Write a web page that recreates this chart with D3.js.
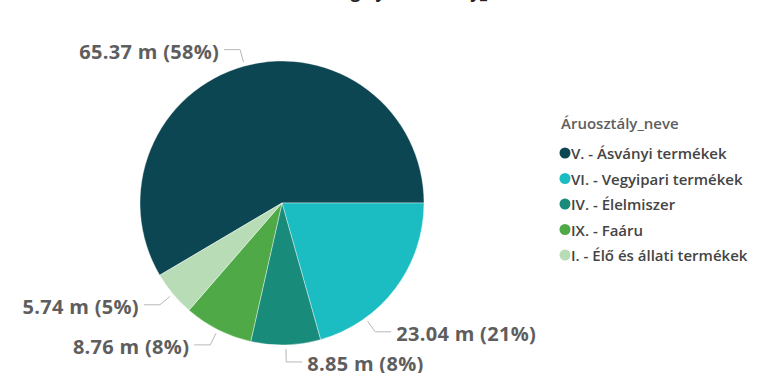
<!DOCTYPE html>
<html>
<head>
<meta charset="utf-8">
<script src="https://cdn.jsdelivr.net/npm/d3@7"></script>
<style>
  body { margin: 0; background: #fff; }
  svg { display: block; font-family: "Open Sans", sans-serif; }
</style>
</head>
<body>
<script>
// data (values in millions)
const categories = [
  "V. - Ásványi termékek",
  "VI. - Vegyipari termékek",
  "IV. - Élelmiszer",
  "IX. - Faáru",
  "I. - Élő és állati termékek"
];
const values = [65.37, 23.04, 8.85, 8.76, 5.74];
const percentLabels = ["58%", "21%", "8%", "8%", "5%"];
const colors = ["#0b4652", "#1bbdc3", "#198b7b", "#4fa947", "#b8dcb5"];
const legendTitle = "Áruosztály_neve";
const chartTitle = "Összeg by Áruosztály_neve";

const W = 773, H = 373;
const cx = 282, cy = 203, radius = 142;

const svg = d3.select("body").append("svg")
  .attr("width", W)
  .attr("height", H);

// title is cut by the top edge, only the descenders show
svg.append("text")
  .attr("x", 415)
  .attr("y", -2)
  .attr("text-anchor", "middle")
  .attr("font-size", 17)
  .attr("font-weight", 700)
  .attr("fill", "#252423")
  .text(chartTitle);

const data = categories.map((c, i) => ({ name: c, value: values[i], pct: percentLabels[i], color: colors[i] }));

// the first slice ends at 3 o'clock
const total = d3.sum(values);
const start = Math.PI / 2 - (values[0] / total) * 2 * Math.PI;

const pie = d3.pie()
  .value(d => d.value)
  .sort(null)
  .startAngle(start)
  .endAngle(start + 2 * Math.PI);

const arcs = pie(data);

const arc = d3.arc().innerRadius(0).outerRadius(radius);

const g = svg.append("g").attr("transform", `translate(${cx},${cy})`);

g.selectAll("path.slice")
  .data(arcs)
  .enter().append("path")
  .attr("class", "slice")
  .attr("d", arc)
  .attr("fill", d => d.data.color)
  .attr("stroke", "#fff")
  .attr("stroke-width", 0.4);

// small nudge for a label that power bi moved away from the mid angle
const labelShift = { "VI. - Vegyipari termékek": 17 * Math.PI / 180 };

const pt = (a, r) => [Math.sin(a) * r, -Math.cos(a) * r];

arcs.forEach(d => {
  const a = (d.startAngle + d.endAngle) / 2 + (labelShift[d.data.name] || 0);
  const p1 = pt(a, radius + 4);
  const p2 = pt(a, radius + 17);
  let norm = a % (2 * Math.PI);
  if (norm < 0) norm += 2 * Math.PI;
  const right = norm < Math.PI;
  const p3 = [p2[0] + (right ? 16 : -16), p2[1]];

  g.append("polyline")
    .attr("points", [p1, p2, p3].map(p => p.join(",")).join(" "))
    .attr("fill", "none")
    .attr("stroke", "#b8b8b8")
    .attr("stroke-width", 1);

  g.append("text")
    .attr("x", p3[0] + (right ? 5 : -5))
    .attr("y", p3[1] + 2)
    .attr("dominant-baseline", "central")
    .attr("text-anchor", right ? "start" : "end")
    .attr("font-size", 20)
    .attr("letter-spacing", 0.3)
    .attr("font-weight", 700)
    .attr("fill", "#5e5e5e")
    .text(`${d3.format(".2f")(d.data.value)} m (${d.data.pct})`);
});

// legend
const legend = svg.append("g").attr("transform", "translate(561,123)");

legend.append("text")
  .attr("x", 0)
  .attr("y", 0)
  .attr("dominant-baseline", "central")
  .attr("font-size", 15)
  .attr("font-weight", 600)
  .attr("fill", "#5e5e5e")
  .text(legendTitle);

const ly = d3.scalePoint()
  .domain(categories)
  .range([30, 132]);

const items = legend.selectAll("g.item")
  .data(data)
  .enter().append("g")
  .attr("class", "item")
  .attr("transform", d => `translate(0,${ly(d.name)})`);

items.append("circle")
  .attr("cx", 4)
  .attr("cy", 0)
  .attr("r", 5.5)
  .attr("fill", d => d.color);

items.append("text")
  .attr("x", 10)
  .attr("y", 0)
  .attr("dominant-baseline", "central")
  .attr("font-size", 15)
  .attr("font-weight", 600)
  .attr("fill", "#444")
  .text(d => d.name);
</script>
</body>
</html>
